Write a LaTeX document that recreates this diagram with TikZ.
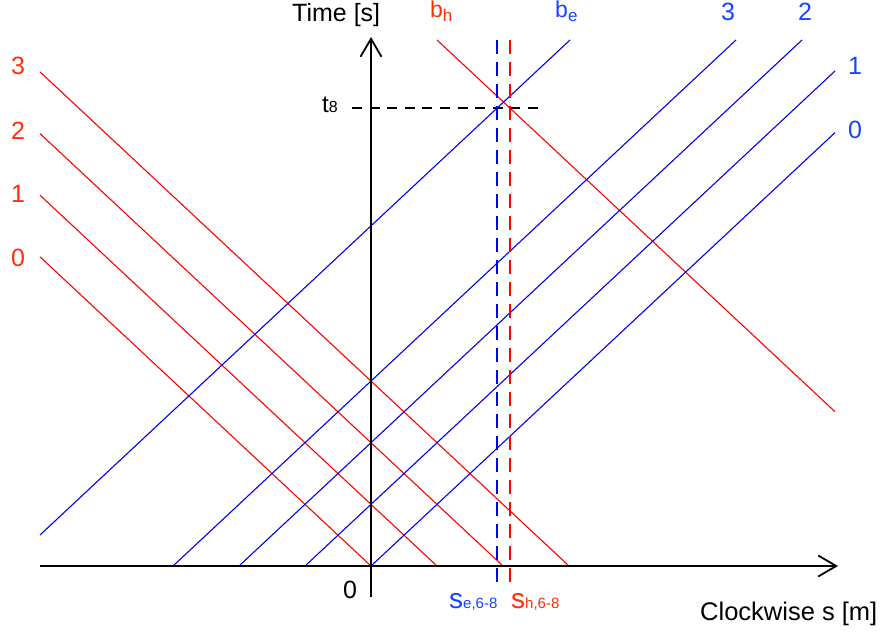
\documentclass[tikz,border=0pt]{standalone}
\usepackage{fontspec}
\setmainfont{Liberation Sans}
\usetikzlibrary{arrows.meta}
\definecolor{lred}{RGB}{255,0,0}
\definecolor{lblue}{RGB}{0,0,255}
\definecolor{tred}{RGB}{255,45,10}
\definecolor{tblue}{RGB}{20,70,255}
\newcommand\lowsub[3]{\raisebox{-#3pt}{\fontsize{#1}{#1}\selectfont #2}}
\tikzset{
  axis/.style={line width=1.8pt, -{Straight Barb[length=18pt,width=21pt,line width=1.8pt]}},
  redline/.style={lred, line width=1.1pt},
  blueline/.style={lblue, line width=1.1pt},
  dashline/.style={line width=2pt, dash pattern=on 14pt off 8pt},
  lbl/.style={inner sep=0pt, font=\fontsize{25}{30}\selectfont},
}
\begin{document}
\begin{tikzpicture}[x=1pt,y=-1pt]
\useasboundingbox (0,0) rectangle (888,634);
% coordinates
\coordinate (O) at (371,566);
\coordinate (xs) at (40,566);
\coordinate (xe) at (838,566);
\coordinate (ys) at (371,597);
\coordinate (ye) at (371,37);
% red lines
\coordinate (r0a) at (40,256.8);  \coordinate (r0b) at (371,566);
\coordinate (r1a) at (40,195.2);  \coordinate (r1b) at (437,566);
\coordinate (r2a) at (40,133.6);  \coordinate (r2b) at (503,566);
\coordinate (r3a) at (40,71.9);   \coordinate (r3b) at (569,566);
\coordinate (bha) at (437,40);    \coordinate (bhb) at (835,411.7);
% blue lines
\coordinate (b0a) at (371,566);   \coordinate (b0b) at (835,132.6);
\coordinate (b1a) at (305,566);   \coordinate (b1b) at (835,71);
\coordinate (b2a) at (239,566);   \coordinate (b2b) at (802,40);
\coordinate (b3a) at (173,566);   \coordinate (b3b) at (736,40);
\coordinate (bea) at (40,535);    \coordinate (beb) at (570,40);
% dashed
\coordinate (dea) at (497,40);    \coordinate (deb) at (497,584);
\coordinate (dha) at (510,40);    \coordinate (dhb) at (510,584);
\coordinate (ta) at (352,108);    \coordinate (tb) at (538,108);

\foreach \k in {0,1,2,3} {\draw[redline] (r\k a) -- (r\k b);}
\draw[redline] (bha) -- (bhb);
\foreach \k in {0,1,2,3} {\draw[blueline] (b\k a) -- (b\k b);}
\draw[blueline] (bea) -- (beb);

\draw[dashline, line width=1.6pt, dash pattern=on 10pt off 7.6pt] (ta) -- (tb);
\draw[dashline, lblue] (dea) -- (deb);
\draw[dashline, lred] (dha) -- (dhb);

\draw[axis] (xs) -- (xe);
\draw[axis] (ys) -- (ye);

% labels
\node[lbl, anchor=base west] (time) at (292,22) {Time [s]};
\node[lbl, anchor=base west] (cw) at (700,620) {\fontsize{25.5}{30}\selectfont Clockwise s [m]};
\node[lbl, anchor=base west, text=tred] (lbh) at (430,18) {\fontsize{23}{26}\selectfont b\lowsub{17}{h}{4}};
\node[lbl, anchor=base west, text=tblue] (lbe) at (555,18) {\fontsize{23}{26}\selectfont b\lowsub{17}{e}{4}};
\node[lbl, text=tblue] (lb3) at (728,12) {3};
\node[lbl, text=tblue] (lb2) at (805,12) {2};
\node[lbl, text=tblue] (lb1) at (855,66) {1};
\node[lbl, text=tblue] (lb0) at (855,130) {0};
\node[lbl, text=tred] (lr3) at (18,66) {3};
\node[lbl, text=tred] (lr2) at (18,131) {2};
\node[lbl, text=tred] (lr1) at (18,194) {1};
\node[lbl, text=tred] (lr0) at (18,258) {0};
\node[lbl, anchor=base west] (t8) at (322,112) {\fontsize{24}{28}\selectfont t\lowsub{16}{8}{0.5}};
\node[lbl] (zero) at (350,590) {0};
\node[lbl, anchor=base west, text=tblue] (se) at (449,608) {\fontsize{28}{30}\selectfont s\lowsub{15}{e,6-8}{0.5}};
\node[lbl, anchor=base west, text=tred] (sh) at (511,608) {\fontsize{28}{30}\selectfont s\lowsub{15}{h,6-8}{0.5}};
\end{tikzpicture}
\end{document}
